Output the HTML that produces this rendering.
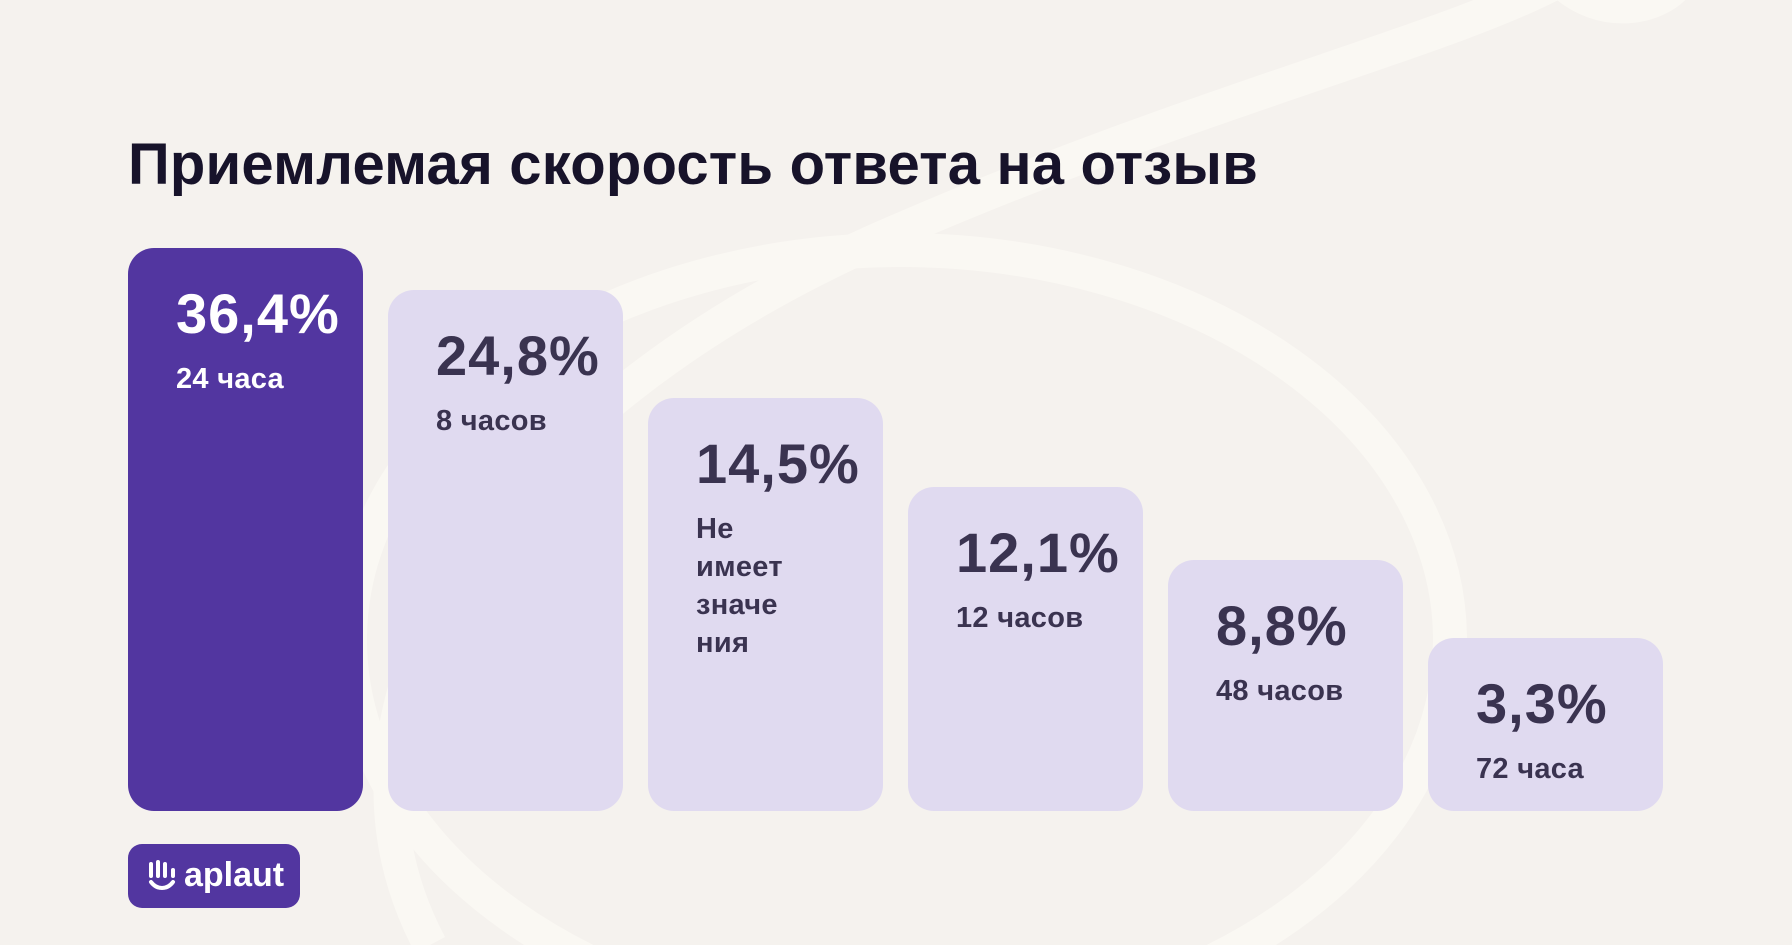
<!DOCTYPE html>
<html><head><meta charset="utf-8"><style>
html,body{margin:0;padding:0;width:1792px;height:945px;overflow:hidden}
body{background:#f5f2ee;position:relative;font-family:"Liberation Sans","DejaVu Sans",sans-serif}
svg.bg{position:absolute;left:0;top:0}
h1{position:absolute;left:128px;top:131px;margin:0;font-size:58px;font-weight:bold;color:#17132a;letter-spacing:0.2px;white-space:nowrap}
.bar{position:absolute;width:235px;bottom:134px;background:#e0daf0;border-radius:26px;color:#3a3350}
.bar.d{background:#5236a0;color:#fff}
.p{position:absolute;left:48px;top:38px;font-size:56px;font-weight:bold;line-height:1;letter-spacing:1px}
.l{position:absolute;left:48px;top:112px;font-size:29px;font-weight:bold;line-height:38px;letter-spacing:0.3px}
.logo{position:absolute;left:128px;top:844px;width:172px;height:64px;background:#5236a0;border-radius:14px;color:#fff;font-size:34px;font-weight:bold}
</style></head><body>
<svg class="bg" width="1792" height="945">
<g fill="none" stroke="#faf8f3" stroke-width="34">
<ellipse cx="900" cy="640" rx="550" ry="390"/>
<path d="M430 945 C 300 700 500 400 900 230 C 1200 100 1450 40 1560 -20"/>
<path d="M1560 -20 C 1600 20 1660 10 1680 -20"/>
</g>
</svg>
<h1>Приемлемая скорость ответа на отзыв</h1>
<div class="bar d" style="left:128px;top:248px"><div class="p">36,4%</div><div class="l">24 часа</div></div>
<div class="bar" style="left:388px;top:290px"><div class="p">24,8%</div><div class="l">8 часов</div></div>
<div class="bar" style="left:648px;top:398px"><div class="p">14,5%</div><div class="l">Не<br>имеет<br>значе<br>ния</div></div>
<div class="bar" style="left:908px;top:487px"><div class="p">12,1%</div><div class="l">12 часов</div></div>
<div class="bar" style="left:1168px;top:560px"><div class="p">8,8%</div><div class="l">48 часов</div></div>
<div class="bar" style="left:1428px;top:638px"><div class="p">3,3%</div><div class="l">72 часа</div></div>
<div class="logo"><svg style="position:absolute;left:18px;top:16px" width="32" height="32" viewBox="0 0 32 32" fill="none" stroke="#fff" stroke-width="4" stroke-linecap="round"><path d="M5 4v12M12 2v14M19 4v12M27 10v6"/><path d="M5 22c6 8 16 8 22 0"/></svg><span style="position:absolute;left:56px;top:12px">aplaut</span></div>
</body></html>
